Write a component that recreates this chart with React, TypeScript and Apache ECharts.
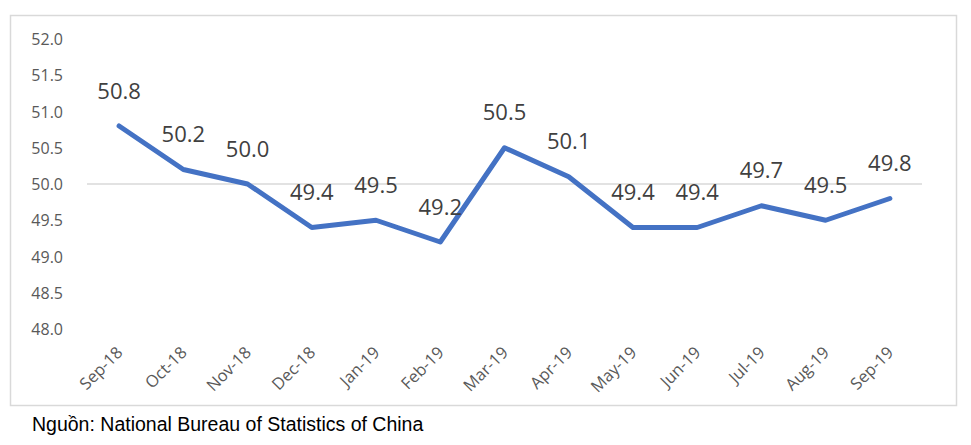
import React, { useEffect, useRef } from "react";
import * as echarts from "echarts";

const categories = ["Sep-18", "Oct-18", "Nov-18", "Dec-18", "Jan-19", "Feb-19", "Mar-19", "Apr-19", "May-19", "Jun-19", "Jul-19", "Aug-19", "Sep-19"];
const pmiValues = [50.8, 50.2, 50.0, 49.4, 49.5, 49.2, 50.5, 50.1, 49.4, 49.4, 49.7, 49.5, 49.8];
const sourceText = "Nguồn: National Bureau of Statistics of China";

export default function App() {
  const ref = useRef<HTMLDivElement>(null);
  useEffect(() => {
    if (!ref.current) return;
    const chart = echarts.init(ref.current, undefined, { renderer: "svg" });
    chart.setOption({
      animation: false,
      backgroundColor: "#ffffff",
      grid: { left: 87, right: 49, top: 39, bottom: 116 },
      xAxis: {
        type: "category",
        data: categories,
        boundaryGap: true,
        axisLine: { show: false },
        axisTick: { show: false },
        axisLabel: {
          rotate: 45,
          margin: 20,
          fontSize: 16.5,
          color: "#595959",
          fontFamily: "Open Sans",
          interval: 0,
        },
        splitLine: { show: false },
      },
      yAxis: {
        type: "value",
        min: 48,
        max: 52,
        interval: 0.5,
        axisLine: { show: false },
        axisTick: { show: false },
        splitLine: { show: false },
        axisLabel: {
          margin: 24,
          fontSize: 16,
          color: "#595959",
          fontFamily: "Open Sans",
          formatter: (v: number) => v.toFixed(1),
        },
      },
      series: [
        {
          type: "line",
          data: pmiValues,
          symbol: "circle",
          symbolSize: 1,
          showSymbol: true,
          lineStyle: { color: "#4472C4", width: 5, cap: "round", join: "round" },
          itemStyle: { color: "#4472C4" },
          label: {
            show: true,
            position: "top",
            distance: 25,
            fontSize: 22,
            color: "#404040",
            fontFamily: "Open Sans",
            formatter: (p: any) => Number(p.value).toFixed(1),
          },
          markLine: {
            silent: true,
            symbol: "none",
            label: { show: false },
            lineStyle: { color: "#d9d9d9", width: 1.5, type: "solid" },
            data: [{ yAxis: 50 }],
            z: 1,
          },
          z: 3,
        },
      ],
      graphic: [
        {
          type: "rect",
          shape: { x: 10.5, y: 15.5, width: 946, height: 390 },
          style: { fill: "none", stroke: "#d9d9d9", lineWidth: 1.5 },
          silent: true,
          z: 0,
        },
        {
          type: "text",
          x: 32,
          y: 424,
          style: {
            text: sourceText,
            fontSize: 19.5,
            fontFamily: "Liberation Sans",
            fill: "#000000",
            textVerticalAlign: "middle",
          },
        },
      ],
    });
    return () => chart.dispose();
  }, []);
  return <div ref={ref} style={{ position: "absolute", left: 0, top: 0, width: 971, height: 445 }} />;
}
